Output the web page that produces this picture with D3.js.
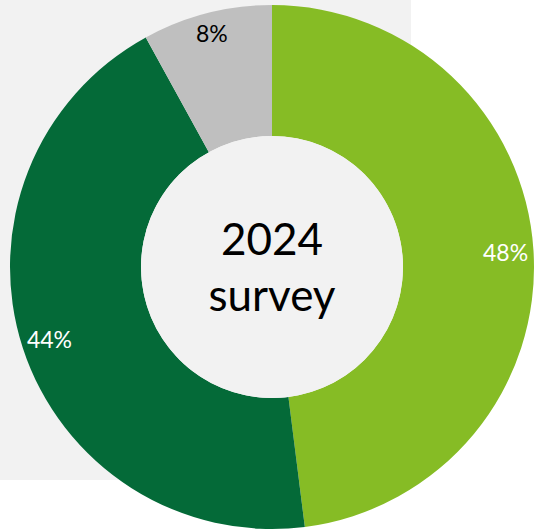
<!DOCTYPE html>
<html>
<head>
<meta charset="utf-8">
<script src="https://cdn.jsdelivr.net/npm/d3@7"></script>
<style>
  html, body { margin: 0; padding: 0; background: #ffffff; }
  svg { display: block; }
</style>
</head>
<body>
<svg id="chart" width="534" height="532"></svg>
<script>
const categories = ["A", "B", "C"];
const values = [48, 44, 8];
const labels = ["48%", "44%", "8%"];
const colors = ["#86bc25", "#046a38", "#bfbfbf"];
const labelColors = ["#ffffff", "#ffffff", "#000000"];
const centerLines = ["2024", "survey"];

const svg = d3.select("#chart");
const cx = 272, cy = 267, outerR = 262, innerR = 131;

// background panel
svg.append("rect").attr("x", 0).attr("y", 0).attr("width", 411).attr("height", 480).attr("fill", "#f2f2f2");

const g = svg.append("g").attr("transform", `translate(${cx},${cy})`);

const data = categories.map((c, i) => ({ cat: c, value: values[i], label: labels[i], color: colors[i], lc: labelColors[i], idx: i }));

const pie = d3.pie().sort(null).value(d => d.value).startAngle(0).endAngle(2 * Math.PI);
const arc = d3.arc().innerRadius(innerR).outerRadius(outerR);
const labelRadii = [234, 234, 242];

const arcs = pie(data);

g.selectAll("path.slice").data(arcs).enter().append("path")
  .attr("class", "slice")
  .attr("d", arc)
  .attr("fill", d => d.data.color);

g.append("circle").attr("r", innerR).attr("fill", "#f2f2f2");

g.selectAll("text.lbl").data(arcs).enter().append("text")
  .attr("class", "lbl")
  .attr("transform", d => {
    const r = labelRadii[d.data.idx];
    const c = d3.arc().innerRadius(r).outerRadius(r).centroid(d);
    return `translate(${c[0]},${c[1]})`;
  })
  .attr("text-anchor", "middle")
  .attr("dominant-baseline", "central")
  .attr("font-family", "Lato, 'Open Sans', sans-serif")
  .attr("font-size", 23)
  .attr("fill", d => d.data.lc)
  .text(d => d.data.label);

g.append("text")
  .attr("x", 0).attr("y", -12)
  .attr("text-anchor", "middle")
  .attr("font-family", "Lato, 'Open Sans', sans-serif")
  .attr("font-size", 44)
  .attr("fill", "#000000")
  .text(centerLines[0]);

g.append("text")
  .attr("x", 0).attr("y", 44)
  .attr("text-anchor", "middle")
  .attr("font-family", "Lato, 'Open Sans', sans-serif")
  .attr("font-size", 44)
  .attr("fill", "#000000")
  .text(centerLines[1]);
</script>
</body>
</html>
